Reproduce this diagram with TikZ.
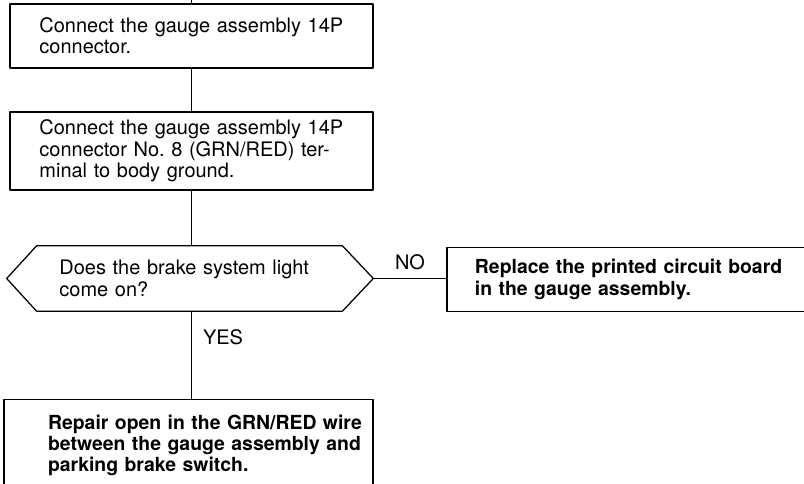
\documentclass[tikz,border=0pt]{standalone}
\usepackage{fontspec}
\setmainfont{TeX Gyre Heros}
\usetikzlibrary{positioning,calc}

\begin{document}
\begin{tikzpicture}[x=0.025cm,y=-0.025cm,line join=round,
    every node/.style={font=\fontsize{14.2}{15.2}\selectfont},
    stepbox/.style={draw,line width=0.9pt,align=left,inner xsep=0pt},
    answer/.style={font=\fontsize{13.8}{15.2}\selectfont\bfseries},
    flow/.style={line width=0.9pt}]
  \useasboundingbox (0,0) rectangle (804,484);
  \coordinate (in) at (191.5,0);
  \node[stepbox,minimum width=9.075cm,minimum height=1.6cm,text width=7.6cm] (conn) at (191.5,36)
    {Connect the gauge assembly 14P\\connector.};
  \node[stepbox,minimum width=9.075cm,minimum height=1.95cm,text width=7.6cm] (gnd) at (191.5,151)
    {Connect the gauge assembly 14P\\connector No.~8 (GRN/RED) ter-\\minal to body ground.};
  % decision
  \node[align=left,inner xsep=0pt,text width=6.5cm,minimum width=7.625cm,minimum height=1.625cm] (dec) at (189.5,278.5)
    {Does the brake system light\\come on?};
  \draw[flow] (dec.north west) -- (dec.north east) -- ($(dec.east)+(31,0)$) coordinate (dec-r)
    -- (dec.south east) -- (dec.south west) -- ($(dec.west)+(-30,0)$) -- cycle;
  \node[stepbox,answer,minimum width=9.2cm,minimum height=1.6cm,text width=7.8cm] (pcb) at (631,279.5)
    {Replace the printed circuit board\\in the gauge assembly.};
  \node[stepbox,answer,anchor=north,minimum width=9.225cm,text width=9.1cm,inner ysep=0.375cm,text depth=2cm] (rep) at (188.5,399)
    {\hspace*{1.04cm}Repair open in the GRN/RED wire\\
     \hspace*{1.04cm}between the gauge assembly and\\
     \hspace*{1.04cm}parking brake switch.};
  \node (no) at (410,262) {NO};
  \node (yes) at (223,337) {YES};
  % connectors
  \draw[flow] (in) -- (conn);
  \draw[flow] (conn) -- (gnd);
  \draw[flow] (gnd) -- (gnd.south |- dec.north);
  \draw[flow] (dec-r) -- (dec-r -| pcb.west);
  \draw[flow] (dec.south -| gnd.south) -- (rep.north -| gnd.south);
\end{tikzpicture}
\end{document}
